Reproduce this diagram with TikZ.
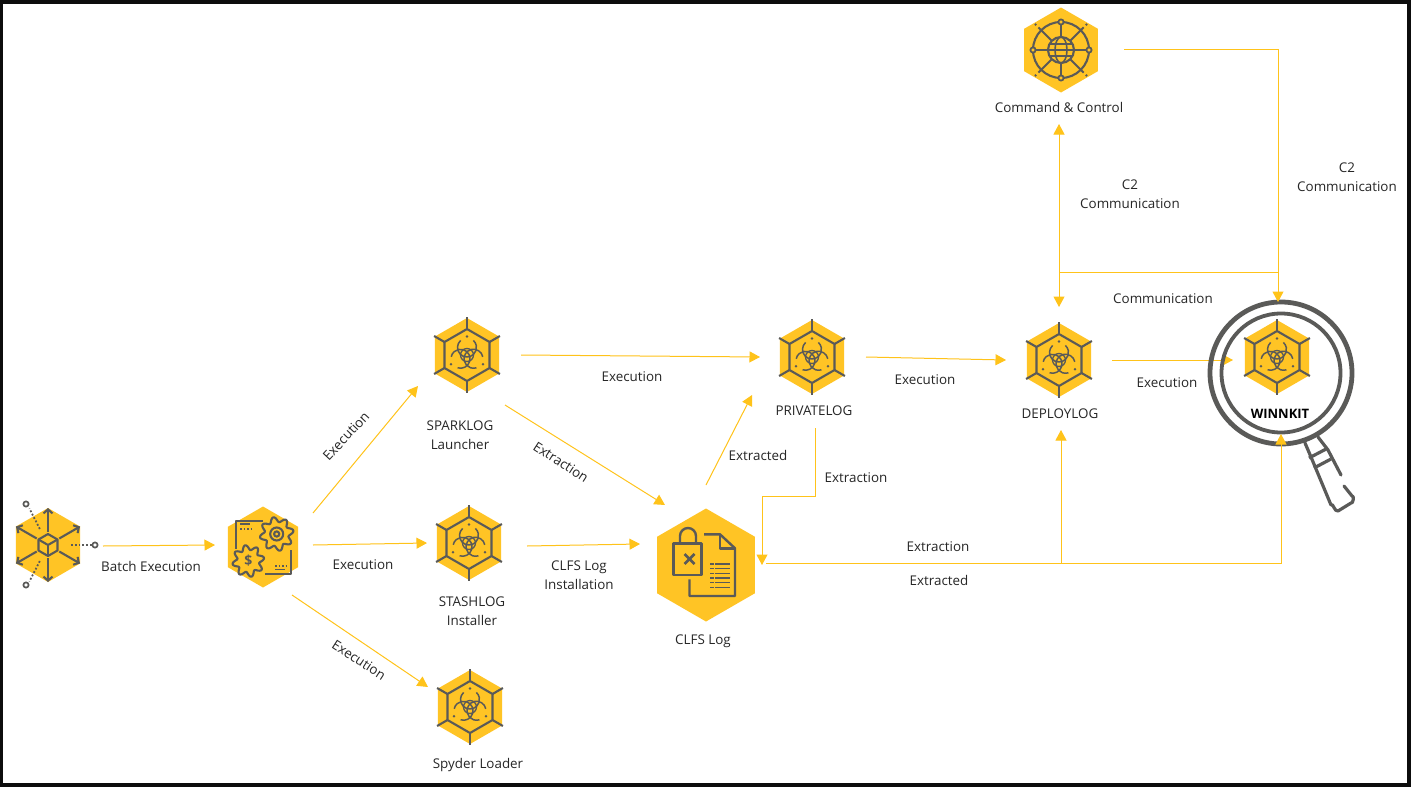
\documentclass[tikz,border=0pt]{standalone}
\usepackage{fontspec}
\setmainfont{Open Sans}
\usetikzlibrary{arrows.meta,shapes.geometric}
\definecolor{hexyellow}{HTML}{FFC425}
\definecolor{flowyellow}{HTML}{FFC31A}
\definecolor{icongray}{HTML}{5A5A58}
\definecolor{labelgray}{HTML}{262626}
\tikzset{
	hexnode/.style={regular polygon, regular polygon sides=6, shape border rotate=30, fill=hexyellow, inner sep=0pt, minimum size=#1},
	iconline/.style={draw=icongray, line width=2.1pt, line join=round},
	flow/.style={draw=flowyellow, line width=1pt, -{Triangle[length=10.5pt,width=11pt]}},
	flowplain/.style={draw=flowyellow, line width=1pt},
	lbl/.style={text=labelgray, font=\fontsize{13.4}{18.5}\selectfont, align=center, inner sep=0pt},
	bioicon/.pic={
		\begin{scope}[x=1pt,y=1pt]
			\draw[iconline] (30:26) -- (90:26) -- (150:26) -- (210:26) -- (270:26) -- (330:26) -- cycle;
			\foreach \a in {30,90,150,210,270,330}
			{
				\draw[iconline] (\a:26) -- (\a:38);
			}
			\foreach \a in {90,210,330}
			{
				\draw[iconline, line width=1.5pt] (\a:7.5)++(\a+42:9.5) arc (\a+42:\a+318:9.5);
				\fill[icongray] (\a:18.5) circle (1.3);
			}
			\draw[iconline, line width=1.3pt] (0,0) circle (6.5);
		\end{scope}
	},
	batchicon/.pic={
		\begin{scope}[x=1pt,y=1pt]
			\draw[iconline] (30:11) -- (90:11) -- (150:11) -- (210:11) -- (270:11) -- (330:11) -- cycle;
			\draw[iconline] (150:11) -- (0,0) -- (30:11);
			\draw[iconline] (0,0) -- (270:11);
			\foreach \a in {30,90,150,210,270,330}
			{
				\draw[iconline, -{Straight Barb[length=4pt,width=9pt]}] (\a:13) -- (\a:37);
			}
			\draw[icongray, line width=1.8pt, dotted] (117:18) -- (117:41);
			\draw[icongray, line width=1.8pt, dotted] (243:18) -- (243:41);
			\draw[icongray, line width=1.8pt, dotted] (0:23) -- (0:44);
			\draw[icongray, line width=1.7pt] (-22,41) circle (2.6);
			\draw[icongray, line width=1.7pt] (-22,-40) circle (2.6);
			\draw[icongray, line width=1.7pt] (47,0) circle (2.6);
		\end{scope}
	},
	hubicon/.pic={
		\begin{scope}[x=1pt,y=1pt]
			\draw[iconline] (-0.3,26.3) -- (-27,26.3) -- (-27,-2.3);
			\draw[iconline] (27.7,-3) -- (27.7,-27) -- (2,-27);
			\draw[iconline, line width=1.3pt] (-23,23) -- (-13,23);
			\draw[iconline, line width=1.5pt, dotted] (-23,18) -- (-12,18);
			\draw[iconline, line width=1.3pt] (12,-22.5) -- (22,-22.5);
			\draw[iconline, line width=1.5pt, dotted] (12,-19) -- (23,-19);
			\draw[iconline, fill=hexyellow] plot[domain=0:360, samples=97] ({13.7+(14.5+2.5*sin(8*\x))*cos(\x)},{13+(14.5+2.5*sin(8*\x))*sin(\x)}) -- cycle;
			\draw[iconline] (13.7,13) circle (6.5);
			\draw[iconline] (13.7,13) circle (2.6);
			\draw[iconline, fill=hexyellow] plot[domain=0:360, samples=97] ({-14.7+(13.5+2.5*sin(8*\x))*cos(\x)},{-14+(13.5+2.5*sin(8*\x))*sin(\x)}) -- cycle;
			\node[text=icongray, font=\fontsize{14}{14}\selectfont\bfseries, inner sep=0pt] (dollar) at (-14.7,-14) {\$};
		\end{scope}
	},
	clfsicon/.pic={
		\begin{scope}[x=1pt,y=1pt]
			\draw[iconline, line width=2.4pt] (-32.7,21.7) rectangle (-4.7,-10);
			\draw[iconline, line width=2.4pt] (-26,21.7) -- (-26,29) arc (180:0:8) -- (-10,21.7);
			\draw[iconline, line width=2.8pt] (-21.5,1) -- (-11.5,11);
			\draw[iconline, line width=2.8pt] (-21.5,11) -- (-11.5,1);
			\draw[iconline, line width=2.4pt] (-2,30.7) -- (14,30.7) -- (29,16.7) -- (29,-31) -- (-16.5,-31) -- (-16.5,-14.3);
			\draw[iconline, line width=2.4pt] (14,30.7) -- (14,16.7) -- (29,16.7);
			\foreach \i in {1,-3.7,-8.3,-13,-17.7,-22.3}
			{
				\draw[icongray, line width=1.5pt] (4,\i) -- (7.5,\i);
				\draw[icongray, line width=1.5pt] (9,\i) -- (24,\i);
			}
		\end{scope}
	},
	ccicon/.pic={
		\begin{scope}[x=1pt,y=1pt]
			\draw[iconline] (0,0) circle (28);
			\foreach \a in {0,90,180,270}
			{
				\draw[iconline] (\a:13) -- (\a:28);
			}
			\foreach \a in {45,135,225,315}
			{
				\draw[iconline] (\a:13) -- (\a:32);
				\fill[icongray] (\a:36) circle (1.3);
			}
			\foreach \a in {0,90,180,270}
			{
				\draw[iconline, line width=1.8pt, fill=hexyellow] (\a:28) circle (2.6);
			}
			\draw[iconline] (0,0) circle (13);
			\draw[iconline, line width=1.6pt] (0,0) ellipse (6 and 13);
			\draw[iconline, line width=1.6pt] (-13,0) -- (13,0);
			\draw[iconline, line width=1.6pt] (-11,6) -- (11,6);
			\draw[iconline, line width=1.6pt] (-11,-6) -- (11,-6);
		\end{scope}
	}
}
\begin{document}
\begin{tikzpicture}[x=1pt,y=-1pt]
	\useasboundingbox (0,0) rectangle (1411,787);
	\fill[black!95] (0,0) rectangle (1411,787);
	\fill[white] (3,4) rectangle (1407,783);

	% hexagons
	\node[hexnode=74pt] (batch) at (48,545) {};
	\node[hexnode=81pt] (hub) at (263,547) {};
	\node[hexnode=74pt] (spark) at (467,355) {};
	\node[hexnode=74pt] (stash) at (469,543) {};
	\node[hexnode=74pt] (spyder) at (470,707) {};
	\node[hexnode=113pt] (clfs) at (706,565) {};
	\node[hexnode=74pt] (private) at (812,357) {};
	\node[hexnode=74pt] (deploy) at (1059,360) {};
	\node[hexnode=85pt] (cc) at (1061,50) {};
	\node[hexnode=74pt] (winnkit) at (1277,357) {};

	\pic at (batch) {batchicon};
	\pic at (hub) {hubicon};
	\pic at (clfs) {clfsicon};
	\pic at (cc) {ccicon};
	\foreach \n in {spark,stash,spyder,private,deploy,winnkit}
	{
		\pic at (\n) {bioicon};
	}

	\coordinate (tap) at (1059,272);
	\coordinate (tapend) at (1278,272);

	% runs under the lens
	\draw[flow] ([shift={(53,0)}]deploy.center) -- ([shift={(-44,3)}]winnkit.center);

	% magnifier
	\node[circle, draw=icongray, line width=4.8pt, minimum size=142pt, inner sep=0pt] (lensouter) at (1281,373) {};
	\node[circle, draw=icongray, line width=3.8pt, minimum size=119pt, inner sep=0pt] (lensinner) at (1281,373) {};
	\draw[iconline, line width=3.2pt, line cap=round] (1305,443) -- (1311,457) -- (1331,505) to[out=65,in=200] (1338,511) -- (1351,503) to[out=-40,in=30] (1352,496) -- (1344,486);
	\draw[iconline, line width=3.2pt, line cap=round] (1318,437) -- (1328,450) -- (1341,475);
	\draw[iconline, line width=3.2pt] (1309,458) -- (1328,448);
	\draw[iconline, line width=3.2pt] (1314,468) -- (1331,459);

	% connectors
	\draw[flow] ([shift={(55,1)}]batch.center) -- ([shift={(-48,-2)}]hub.center);
	\draw[flow] ([shift={(50,-34)}]hub.center) -- ([shift={(-49,31)}]spark.center);
	\draw[flow] ([shift={(50,-2)}]hub.center) -- ([shift={(-42,0)}]stash.center);
	\draw[flow] ([shift={(29,48)}]hub.center) -- ([shift={(-42,-20)}]spyder.center);
	\draw[flow] ([shift={(54,0)}]spark.center) -- ([shift={(-52,0)}]private.center);
	\draw[flow] ([shift={(38,50)}]spark.center) -- ([shift={(-41,-60)}]clfs.center);
	\draw[flow] ([shift={(58,3)}]stash.center) -- ([shift={(-66,-21)}]clfs.center);
	\draw[flow] ([shift={(0,-80)}]clfs.center) -- ([shift={(-60,38)}]private.center);
	\draw[flow] ([shift={(3,71)}]private.center) -- ++(0,68) -| ([shift={(56,0)}]clfs.center);
	\draw[flow] ([shift={(60,-2)}]clfs.center) -| ([shift={(2,70)}]deploy.center);
	\draw[flow] ([shift={(60,-2)}]clfs.center) -| ([shift={(4,77)}]winnkit.center);
	\draw[flow] ([shift={(54,0)}]private.center) -- ([shift={(-53,0)}]deploy.center);
	\draw[flow] ([shift={(63,-1)}]cc.center) -| ([shift={(1,-55)}]winnkit.center);
	\draw[flow] (tap) -- ([shift={(-2,74)}]cc.center);
	\draw[flow] (tap) -- ([shift={(0,-53)}]deploy.center);
	\draw[flowplain] (tap) -- (tapend);

	% labels
	\node[lbl] (batchlbl) at (151,566) {Batch Execution};
	\node[lbl, rotate=47] (execa) at (346,436) {Execution};
	\node[lbl] (execb) at (363,565) {Execution};
	\node[lbl, rotate=-33] (execc) at (359,660) {Execution};
	\node[lbl] (sparklbl) at (460,435) {SPARKLOG\\Launcher};
	\node[lbl] (stashlbl) at (472,611) {STASHLOG\\Installer};
	\node[lbl] (spyderlbl) at (478,765) {Spyder Loader};
	\node[lbl] (installlbl) at (579,575) {CLFS Log\\Installation};
	\node[lbl, rotate=-33] (extra) at (561,462) {Extraction};
	\node[lbl] (execd) at (632,377) {Execution};
	\node[lbl] (privatelbl) at (814,411) {PRIVATELOG};
	\node[lbl] (extracteda) at (758,455) {Extracted};
	\node[lbl] (extrb) at (856,478) {Extraction};
	\node[lbl] (exece) at (925,380) {Execution};
	\node[lbl] (deploylbl) at (1060,414) {DEPLOYLOG};
	\node[lbl] (extrc) at (938,547) {Extraction};
	\node[lbl] (extractedb) at (939,580) {Extracted};
	\node[lbl] (clfslbl) at (703,641) {CLFS Log};
	\node[lbl] (cclbl) at (1059,107) {Command \& Control};
	\node[lbl] (c2a) at (1130,194) {C2\\Communication};
	\node[lbl] (c2b) at (1347,177) {C2\\Communication};
	\node[lbl] (commlbl) at (1163,299) {Communication};
	\node[lbl] (execf) at (1167,383) {Execution};
	\node[lbl, font=\fontsize{13}{14}\selectfont\bfseries, text=black] (winnkitlbl) at (1280,414) {WINNKIT};
\end{tikzpicture}
\end{document}
